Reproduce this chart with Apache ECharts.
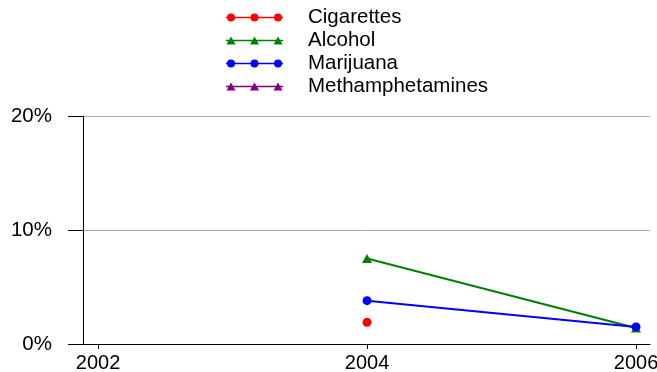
<!DOCTYPE html>
<html>
<head>
<meta charset="utf-8">
<script src="https://cdn.jsdelivr.net/npm/echarts@6/dist/echarts.min.js"></script>
<style>html,body{margin:0;padding:0;background:#fff}#c{width:657px;height:372px}</style>
</head>
<body>
<div id="c"></div>
<script>
var years = [2004, 2006];
var cigarettes = [1.9, null];
var alcohol = [7.5, 1.4];
var marijuana = [3.8, 1.5];
var methamphetamines = [null, null];
var xTicks = [2002, 2004, 2006];
var yTicks = [0, 10, 20];
var names = ['Cigarettes', 'Alcohol', 'Marijuana', 'Methamphetamines'];
var colors = ['#ff0000', '#008000', '#0000ff', '#800080'];
var symbols = ['circle', 'triangle', 'circle', 'triangle'];

function pairs(vals) { return years.map(function (y, i) { return [y, vals[i]]; }); }

var lineRect = 'M0,4.25 H57 V5.75 H0 Z ';
function circ(c) { return 'M' + (c - 4) + ',5 A4,4 0 1,1 ' + (c + 4) + ',5 A4,4 0 1,1 ' + (c - 4) + ',5 Z '; }
function tri(c) { return 'M' + (c - 4.5) + ',9 L' + c + ',1 L' + (c + 4.5) + ',9 Z '; }
var centers = [5, 28.5, 52];
var circIcon = 'path://' + lineRect + centers.map(circ).join('');
var triIcon = 'path://' + lineRect + centers.map(tri).join('');

var font = '"Liberation Sans", Arial, sans-serif';
var seriesData = [cigarettes, alcohol, marijuana, methamphetamines];

var chart = echarts.init(document.getElementById('c'));
chart.setOption({
  animation: false,
  backgroundColor: '#ffffff',
  legend: {
    orient: 'vertical',
    left: 221,
    top: 2,
    itemWidth: 57,
    itemHeight: 8,
    itemGap: 2,
    itemStyle: { borderWidth: 0 },
    textStyle: { fontFamily: font, fontSize: 20.5, color: '#000', padding: [2, 0, 0, 20] },
    data: names.map(function (n, i) { return { name: n, icon: symbols[i] === 'circle' ? circIcon : triIcon }; })
  },
  grid: { left: 83, right: 7, top: 116, bottom: 28, containLabel: false, outerBoundsMode: 'none' },
  xAxis: {
    type: 'value',
    min: 2001.888,
    max: 2006.104,
    offset: 3,
    splitLine: { show: false },
    axisLine: { show: true, lineStyle: { color: '#000', width: 1 } },
    axisTick: { show: true, length: 5, customValues: xTicks, lineStyle: { color: '#000' } },
    axisLabel: { customValues: xTicks, margin: 6, fontFamily: font, fontSize: 20, color: '#000', hideOverlap: false, formatter: function (v) { return String(v); } }
  },
  yAxis: {
    type: 'value',
    min: 0,
    max: 20,
    interval: 10,
    axisLine: { show: true, lineStyle: { color: '#000', width: 1 } },
    axisTick: { show: true, length: 15, inside: false, lineStyle: { color: '#000' } },
    axisLabel: { margin: 31, fontFamily: font, fontSize: 20.5, color: '#000', formatter: function (v) { return v + '%'; } },
    splitLine: { show: true, lineStyle: { color: '#a6a6a6', width: 1 } }
  },
  series: names.map(function (n, i) {
    return {
      name: n,
      type: 'line',
      data: pairs(seriesData[i]),
      color: colors[i],
      symbol: symbols[i],
      symbolSize: symbols[i] === 'circle' ? 9 : [10, 9],
      showAllSymbol: true,
      connectNulls: false,
      lineStyle: { width: 2, color: colors[i] },
      itemStyle: { color: colors[i] }
    };
  })
});
</script>
</body>
</html>
